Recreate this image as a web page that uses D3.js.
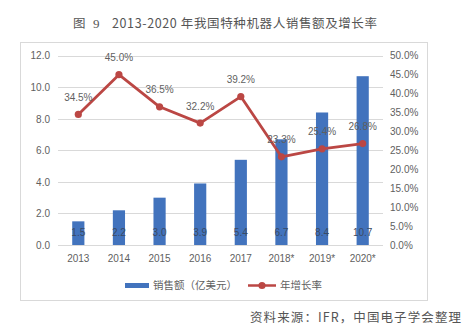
<!DOCTYPE html>
<html>
<head>
<meta charset="utf-8">
<script src="https://cdn.jsdelivr.net/npm/d3@7/dist/d3.min.js"></script>
<style>
  html, body { margin: 0; padding: 0; background: #fff; }
  svg { display: block; }
</style>
</head>
<body>
<script>
// Sales of special-purpose robots in China, 2013-2020 (2018-2020 forecast)
const years = ['2013', '2014', '2015', '2016', '2017', '2018*', '2019*', '2020*'];
const sales = [1.5, 2.2, 3.0, 3.9, 5.4, 6.7, 8.4, 10.7];          // 亿美元
const growth = [34.5, 45.0, 36.5, 32.2, 39.2, 23.3, 25.4, 26.8];  // %
const leftTicks = [0, 2, 4, 6, 8, 10, 12];
const rightTicks = [0, 5, 10, 15, 20, 25, 30, 35, 40, 45, 50];

const W = 464, H = 336;
const barColor = '#4273bd';
const lineColor = '#bb4744';
const textColor = '#5f5f5f';
const numFont = '"Liberation Sans", Arial, sans-serif';
const cjkFont = '"Noto Sans CJK SC", sans-serif';

const svg = d3.select('body').append('svg').attr('width', W).attr('height', H);

// Title: figure number, then the heading text
const title = svg.append('g')
  .attr('font-family', cjkFont).attr('font-size', 12.5).attr('fill', '#555');
title.append('text').attr('x', 73).attr('y', 25).attr('dominant-baseline', 'middle').text('图');
title.append('text').attr('x', 93).attr('y', 25).attr('dominant-baseline', 'middle')
  .attr('font-family', '"Liberation Serif", serif').attr('font-size', 13).text('9');
title.append('text').attr('x', 112).attr('y', 25)
  .attr('dominant-baseline', 'middle')
  .attr('textLength', 265).attr('lengthAdjust', 'spacing')
  .text('2013-2020 年我国特种机器人销售额及增长率');

// Chart frame
svg.append('rect')
  .attr('x', 20.5).attr('y', 42.5).attr('width', 407).attr('height', 258)
  .attr('fill', 'none').attr('stroke', '#d9d9d9');

const plot = { left: 58, right: 383, top: 55.7, bottom: 245 };

const x = d3.scaleBand().domain(years).range([plot.left, plot.right]).paddingInner(0.7).paddingOuter(0.35);
const yL = d3.scaleLinear().domain([0, 12]).range([plot.bottom, plot.top]);
const yR = d3.scaleLinear().domain([0, 50]).range([plot.bottom, plot.top]);

// Gridlines
svg.append('g').selectAll('line').data(leftTicks).join('line')
  .attr('x1', plot.left).attr('x2', plot.right)
  .attr('y1', d => Math.round(yL(d)) + 0.5).attr('y2', d => Math.round(yL(d)) + 0.5)
  .attr('stroke', '#d9d9d9').attr('stroke-width', 1);

// Left axis
const axL = svg.append('g').attr('transform', `translate(${plot.left},0)`)
  .call(d3.axisLeft(yL).tickValues(leftTicks).tickFormat(d3.format('.1f')).tickSize(0).tickPadding(8));
axL.select('.domain').remove();
axL.selectAll('text').attr('font-family', numFont).attr('font-size', 10).attr('fill', textColor);

// Right axis
const axR = svg.append('g').attr('transform', `translate(${plot.right},0)`)
  .call(d3.axisRight(yR).tickValues(rightTicks).tickFormat(d => d.toFixed(1) + '%').tickSize(0).tickPadding(7));
axR.select('.domain').remove();
axR.selectAll('text').attr('font-family', numFont).attr('font-size', 10).attr('fill', textColor);

// Bottom axis
const axB = svg.append('g').attr('transform', `translate(0,${plot.bottom})`)
  .call(d3.axisBottom(x).tickSize(0).tickPadding(10));
axB.select('.domain').remove();
axB.selectAll('text').attr('font-family', numFont).attr('font-size', 10).attr('fill', textColor);

// Bars
svg.append('g').selectAll('rect').data(sales).join('rect')
  .attr('x', (d, i) => x(years[i]))
  .attr('y', d => yL(d))
  .attr('width', x.bandwidth())
  .attr('height', d => yL(0) - yL(d))
  .attr('fill', barColor);

// Bar value labels
svg.append('g').selectAll('text').data(sales).join('text')
  .attr('x', (d, i) => x(years[i]) + x.bandwidth() / 2)
  .attr('y', 233)
  .attr('text-anchor', 'middle').attr('dominant-baseline', 'middle')
  .attr('font-family', numFont).attr('font-size', 10).attr('fill', '#3a4a63')
  .text(d => d.toFixed(1));

// Growth line
const cx = i => x(years[i]) + x.bandwidth() / 2;
const line = d3.line().x((d, i) => cx(i)).y(d => yR(d));
svg.append('path').datum(growth)
  .attr('d', line).attr('fill', 'none')
  .attr('stroke', lineColor).attr('stroke-width', 2.8).attr('stroke-linejoin', 'round');

svg.append('g').selectAll('circle').data(growth).join('circle')
  .attr('cx', (d, i) => cx(i)).attr('cy', d => yR(d)).attr('r', 3.6)
  .attr('fill', lineColor);

svg.append('g').selectAll('text').data(growth).join('text')
  .attr('x', (d, i) => cx(i)).attr('y', d => yR(d) - 16)
  .attr('text-anchor', 'middle').attr('dominant-baseline', 'middle')
  .attr('font-family', numFont).attr('font-size', 10).attr('fill', textColor)
  .text(d => d.toFixed(1) + '%');

// Legend
const lg = svg.append('g');
lg.append('rect').attr('x', 125).attr('y', 283).attr('width', 24).attr('height', 5).attr('fill', barColor);
lg.append('text').attr('x', 153).attr('y', 286)
  .attr('dominant-baseline', 'middle')
  .attr('font-family', cjkFont).attr('font-size', 10.5).attr('fill', textColor)
  .text('销售额（亿美元）');
lg.append('line').attr('x1', 248).attr('x2', 276).attr('y1', 285.5).attr('y2', 285.5)
  .attr('stroke', lineColor).attr('stroke-width', 2.5);
lg.append('circle').attr('cx', 262).attr('cy', 285.5).attr('r', 3.6).attr('fill', lineColor);
lg.append('text').attr('x', 280).attr('y', 286)
  .attr('dominant-baseline', 'middle')
  .attr('font-family', cjkFont).attr('font-size', 10.5).attr('fill', textColor)
  .text('年增长率');

// Source note
svg.append('text')
  .attr('x', 250).attr('y', 318.5)
  .attr('dominant-baseline', 'middle')
  .attr('textLength', 211).attr('lengthAdjust', 'spacing')
  .attr('font-family', cjkFont).attr('font-size', 12.5)
  .attr('fill', '#555')
  .text('资料来源：IFR，中国电子学会整理');
</script>
</body>
</html>
